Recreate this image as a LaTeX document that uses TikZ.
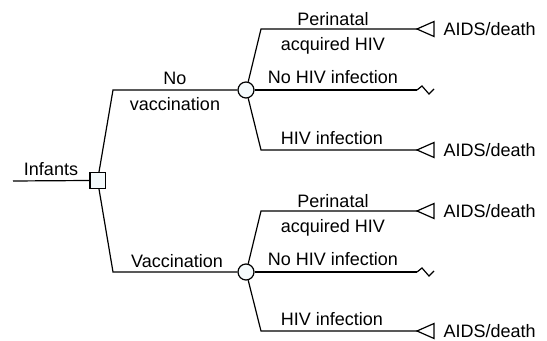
\documentclass[tikz,border=0pt]{standalone}
\usepackage{fontspec}
\setmainfont{Liberation Sans}
\usepackage{xcolor}
\usepackage{tikz}
\usetikzlibrary{positioning}
\definecolor{nodefill}{HTML}{F4FAFC}

\begin{document}
\begin{tikzpicture}[x=0.5pt, y=-0.5pt, line width=0.6pt,
    every node/.style={font=\fontsize{9}{11}\selectfont, inner sep=0pt}]
  \tikzset{decision/.style={draw, rectangle, fill=nodefill, minimum width=7.6pt, minimum height=8pt},
    chance/.style={draw, circle, fill=nodefill, minimum size=8pt}}
  \useasboundingbox (0,0) rectangle (547,341);

  % --- root and decision ---
  \coordinate (root) at (13,181);
  \node[decision] (dec) at (97.5,180.5) {};
  \node (infants) at (51,169) {Infants};
  \draw (root) -- (dec.west);

  % --- chance nodes ---
  \node[chance] (ch1) at (246,90) {};
  \node[chance] (ch2) at (246,272) {};
  \coordinate (k1) at (113,90);
  \coordinate (k2) at (113,272);
  \draw (dec.80) -- (k1) -- (ch1.west);
  \draw (dec.-80) -- (k2) -- (ch2.west);
  \node (novacc) at (175,78) {No};
  \node (novacc2) at (175,104) {vaccination};
  \node (vacc) at (177,261) {Vaccination};

  % --- No vaccination outcomes ---
  \coordinate (k11) at (261,29);
  \coordinate (e11) at (417,29);
  \coordinate (e12) at (417,90);
  \coordinate (k13) at (261,150);
  \coordinate (e13) at (417,150);
  \draw (ch1.75) -- (k11) -- (e11);
  \draw (ch1.east) -- (e12);
  \draw (ch1.-75) -- (k13) -- (e13);
  \node (peri1) at (333,19) {Perinatal};
  \node (acq1) at (333,46) {acquired HIV};
  \node (nohiv1) at (333,77) {No HIV infection};
  \node (hiv1) at (332,138) {HIV infection};
  % terminals
  \draw (e11) -- ++(17,-7.5) -- ++(0,15) -- cycle;
  \draw (e13) -- ++(17,-7.5) -- ++(0,15) -- cycle;
  \draw (e12) -- ++(5,-4) -- ++(7,8) -- ++(5,-5);
  \node[anchor=west] (aids11) at (443,29) {AIDS/death};
  \node[anchor=west] (aids13) at (443,150) {AIDS/death};

  % --- Vaccination outcomes ---
  \coordinate (k21) at (261,211);
  \coordinate (e21) at (417,211);
  \coordinate (e22) at (417,272);
  \coordinate (k23) at (261,331);
  \coordinate (e23) at (417,331);
  \draw (ch2.75) -- (k21) -- (e21);
  \draw (ch2.east) -- (e22);
  \draw (ch2.-75) -- (k23) -- (e23);
  \node (peri2) at (333,201) {Perinatal};
  \node (acq2) at (333,228) {acquired HIV};
  \node (nohiv2) at (333,259) {No HIV infection};
  \node (hiv2) at (332,319) {HIV infection};
  % terminals
  \draw (e21) -- ++(17,-7.5) -- ++(0,15) -- cycle;
  \draw (e23) -- ++(17,-7.5) -- ++(0,15) -- cycle;
  \draw (e22) -- ++(5,-4) -- ++(7,8) -- ++(5,-5);
  \node[anchor=west] (aids21) at (443,211) {AIDS/death};
  \node[anchor=west] (aids23) at (443,331) {AIDS/death};
\end{tikzpicture}
\end{document}
